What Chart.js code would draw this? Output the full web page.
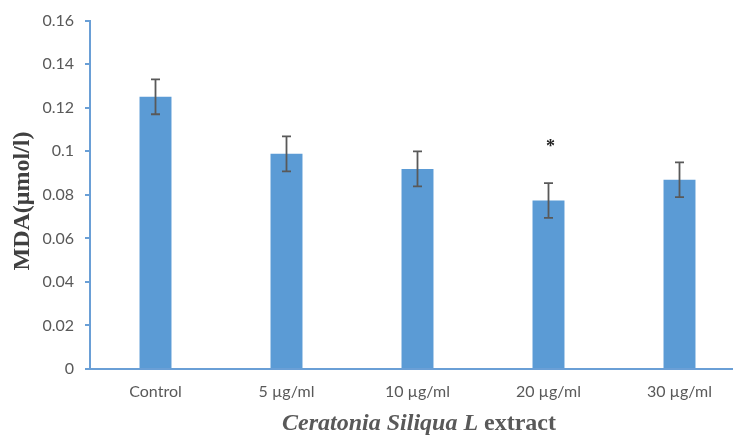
<!DOCTYPE html>
<html>
<head>
<meta charset="utf-8">
<script src="https://cdn.jsdelivr.net/npm/chart.js@4/dist/chart.umd.min.js"></script>
<style>
  html, body { margin: 0; padding: 0; background: #ffffff; overflow: hidden; }
  #wrap { width: 746px; height: 437px; position: relative; }
</style>
</head>
<body>
<div id="wrap"><canvas id="chart"></canvas></div>
<script>
// MDA level per treatment group, with standard error
const categories = ['Control', '5 \u00b5g/ml', '10 \u00b5g/ml', '20 \u00b5g/ml', '30 \u00b5g/ml'];
const mdaValues = [0.125, 0.0988, 0.0919, 0.0774, 0.0869];
const mdaErrors = [0.008, 0.008, 0.008, 0.008, 0.008];
const significant = [false, false, false, true, false];
const yTicks = [0, 0.02, 0.04, 0.06, 0.08, 0.1, 0.12, 0.14, 0.16];

const AXIS_COLOR = '#6A9FD6';
const TEXT_COLOR = '#595959';
const BAR_COLOR = '#5B9BD5';

// Error bars, significance marks and the axis titles
const annotations = {
  id: 'annotations',
  afterDatasetsDraw(chart) {
    const { ctx, scales: { x, y } } = chart;
    ctx.save();
    ctx.strokeStyle = '#595959';
    ctx.lineWidth = 1.8;
    mdaValues.forEach((v, i) => {
      const cx = x.getPixelForValue(i);
      const top = y.getPixelForValue(v + mdaErrors[i]);
      const bot = y.getPixelForValue(v - mdaErrors[i]);
      ctx.beginPath();
      ctx.moveTo(cx, top); ctx.lineTo(cx, bot);
      ctx.moveTo(cx - 4.5, top); ctx.lineTo(cx + 4.5, top);
      ctx.moveTo(cx - 4.5, bot); ctx.lineTo(cx + 4.5, bot);
      ctx.stroke();
      if (significant[i]) {
        ctx.fillStyle = '#222222';
        ctx.font = 'bold 18px "Liberation Serif"';
        ctx.textAlign = 'center';
        ctx.textBaseline = 'middle';
        ctx.fillText('*', cx + 2, top - 36);
      }
    });
    ctx.restore();
  },
  afterDraw(chart) {
    const { ctx } = chart;
    ctx.save();
    // y axis title
    ctx.translate(23, 201);
    ctx.rotate(-Math.PI / 2);
    ctx.fillStyle = '#404040';
    ctx.font = 'bold 24px "Liberation Serif"';
    ctx.textAlign = 'center';
    ctx.textBaseline = 'middle';
    ctx.fillText('MDA(\u03bcmol/l)', 0, 0);
    ctx.restore();

    // x axis title: italic species name followed by plain "extract"
    ctx.save();
    ctx.fillStyle = TEXT_COLOR;
    ctx.textBaseline = 'alphabetic';
    const part1 = 'Ceratonia Siliqua L ';
    const part2 = 'extract';
    const f1 = 'bold italic 24px "Liberation Serif"';
    const f2 = 'bold 24px "Liberation Serif"';
    ctx.font = f1; const w1 = ctx.measureText(part1).width;
    ctx.font = f2; const w2 = ctx.measureText(part2).width;
    const startX = 419 - (w1 + w2) / 2;
    const baseY = 430;
    ctx.font = f1; ctx.textAlign = 'left';
    ctx.fillText(part1, startX, baseY);
    ctx.font = f2;
    ctx.fillText(part2, startX + w1, baseY);
    ctx.restore();
  }
};

new Chart(document.getElementById('chart'), {
  type: 'bar',
  data: {
    labels: categories,
    datasets: [{
      data: mdaValues,
      backgroundColor: BAR_COLOR,
      borderWidth: 0,
      categoryPercentage: 1,
      barPercentage: 0.244
    }]
  },
  options: {
    responsive: true,
    maintainAspectRatio: false,
    animation: false,
    layout: { padding: { top: 19, right: 1, left: 0, bottom: 0 } },
    plugins: { legend: { display: false }, tooltip: { enabled: false } },
    scales: {
      x: {
        grid: { display: false, drawTicks: false },
        border: { display: true, color: AXIS_COLOR, width: 2 },
        ticks: { color: TEXT_COLOR, font: { family: 'Lato', size: 16 }, padding: 13, maxRotation: 0 },
        afterFit(scale) { scale.height = 68; }
      },
      y: {
        min: 0,
        max: 0.16,
        afterBuildTicks(scale) { scale.ticks = yTicks.map(v => ({ value: v })); },
        grid: { drawOnChartArea: false, drawTicks: true, tickLength: 5, color: AXIS_COLOR, lineWidth: 2 },
        border: { display: true, color: AXIS_COLOR, width: 2 },
        ticks: {
          color: TEXT_COLOR,
          font: { family: 'Lato', size: 16 },
          padding: 11,
          callback: (v) => String(Math.round(v * 100) / 100)
        },
        afterFit(scale) { scale.width = 90; }
      }
    }
  },
  plugins: [annotations]
});
</script>
</body>
</html>
